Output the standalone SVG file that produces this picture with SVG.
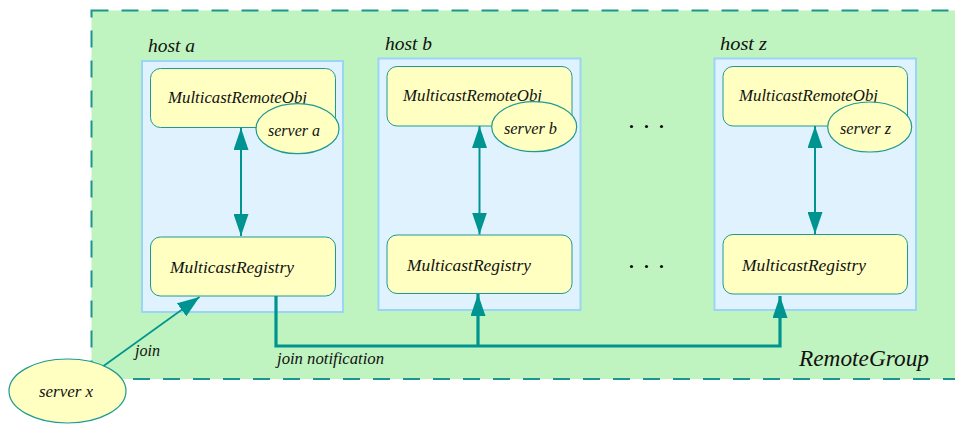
<svg xmlns="http://www.w3.org/2000/svg" width="955" height="424" viewBox="0 0 955 424">
<style>
text{font-family:"Liberation Serif",serif;font-style:italic;fill:#111}
.host{fill:#dff2fe;stroke:#9bd5f5;stroke-width:2}
.box{fill:#ffffc2;stroke:#1e9a94;stroke-width:1}
.srv{fill:#ffffc2;stroke:#1e9a94;stroke-width:1.2}
.c{fill:none;stroke:#009490}
.lbl{font-size:17px}
.hl{font-size:19px}
.sl{font-size:16px}
</style>
<defs>
<marker id="ah" viewBox="0 0 22 15" refX="22" refY="7.5" markerWidth="22" markerHeight="15" markerUnits="userSpaceOnUse" orient="auto"><path d="M0,0 L22,7.5 L0,15 z" fill="#009490"/></marker>
<marker id="ahj" viewBox="0 0 22 16" refX="22" refY="8" markerWidth="22" markerHeight="16" markerUnits="userSpaceOnUse" orient="auto"><path d="M0,0 L22,8 L0,16 z" fill="#009490"/></marker>
</defs>
<g id="RemoteGroup">
<rect x="91.5" y="10.5" width="1000" height="368.5" fill="#bff3bf" stroke="#1a968e" stroke-width="2" stroke-dasharray="17,13"/>
<text x="799" y="366" style="font-size:23px" textLength="130" lengthAdjust="spacingAndGlyphs">RemoteGroup</text>
</g>
<g id="hostA">
<rect class="host" x="142" y="61" width="201" height="251"/>
<text class="hl" x="148" y="52" textLength="47" lengthAdjust="spacingAndGlyphs">host a</text>
</g>
<g id="hostB">
<rect class="host" x="378.5" y="58.5" width="202" height="251.5"/>
<text class="hl" x="385" y="50" textLength="47" lengthAdjust="spacingAndGlyphs">host b</text>
</g>
<g id="hostZ">
<rect class="host" x="714.5" y="58.5" width="201.5" height="251.5"/>
<text class="hl" x="720" y="50" textLength="47" lengthAdjust="spacingAndGlyphs">host z</text>
</g>
<g id="mroA"><rect class="box" x="150.5" y="68.5" width="185" height="59" rx="10"/><text class="lbl" x="168" y="103" textLength="139" lengthAdjust="spacingAndGlyphs">MulticastRemoteObj</text></g>
<g id="serverA"><ellipse class="srv" cx="297.5" cy="128.7" rx="41.5" ry="25"/><text class="sl" x="268" y="136" textLength="52" lengthAdjust="spacingAndGlyphs">server a</text></g>
<g id="regA"><rect class="box" x="150.5" y="237" width="185" height="59" rx="10"/><text class="lbl" x="170" y="273" textLength="124" lengthAdjust="spacingAndGlyphs">MulticastRegistry</text></g>
<g id="mroB"><rect class="box" x="387" y="66.5" width="185" height="59.5" rx="10"/><text class="lbl" x="403" y="101" textLength="139" lengthAdjust="spacingAndGlyphs">MulticastRemoteObj</text></g>
<g id="serverB"><ellipse class="srv" cx="534.2" cy="126.7" rx="42.5" ry="25"/><text class="sl" x="504" y="134" textLength="53" lengthAdjust="spacingAndGlyphs">server b</text></g>
<g id="regB"><rect class="box" x="387" y="235" width="185" height="58.5" rx="10"/><text class="lbl" x="407" y="271" textLength="124" lengthAdjust="spacingAndGlyphs">MulticastRegistry</text></g>
<g id="mroZ"><rect class="box" x="723" y="66.5" width="184.5" height="59.5" rx="10"/><text class="lbl" x="739" y="101" textLength="139" lengthAdjust="spacingAndGlyphs">MulticastRemoteObj</text></g>
<g id="serverZ"><ellipse class="srv" cx="869.7" cy="127" rx="42" ry="25"/><text class="sl" x="840" y="134" textLength="51" lengthAdjust="spacingAndGlyphs">server z</text></g>
<g id="regZ"><rect class="box" x="723" y="234.5" width="184.5" height="59.5" rx="10"/><text class="lbl" x="742" y="271" textLength="124" lengthAdjust="spacingAndGlyphs">MulticastRegistry</text></g>
<g id="serverX"><ellipse class="srv" cx="67.5" cy="391" rx="58.5" ry="32"/><text class="sl" x="39" y="397" textLength="54" lengthAdjust="spacingAndGlyphs">server x</text></g>
<g id="dots" fill="#111">
<circle cx="631.5" cy="126.5" r="1.6"/><circle cx="646.5" cy="126.5" r="1.6"/><circle cx="661.5" cy="126.5" r="1.6"/>
<circle cx="631.5" cy="266.5" r="1.6"/><circle cx="646.5" cy="266.5" r="1.6"/><circle cx="661.5" cy="266.5" r="1.6"/>
</g>
<g id="connectors">
<path class="c" stroke-width="2" d="M241,180 L241,128" marker-end="url(#ah)"/>
<path class="c" stroke-width="2" d="M241,180 L241,236" marker-end="url(#ah)"/>
<path class="c" stroke-width="2" d="M479.5,180 L479.5,126" marker-end="url(#ah)"/>
<path class="c" stroke-width="2" d="M479.5,180 L479.5,234.5" marker-end="url(#ah)"/>
<path class="c" stroke-width="2" d="M815,180 L815,126" marker-end="url(#ah)"/>
<path class="c" stroke-width="2" d="M815,180 L815,234" marker-end="url(#ah)"/>
<path class="c" stroke-width="1.6" d="M103.5,366 L199.5,297" marker-end="url(#ahj)"/>
<path class="c" stroke-width="3.2" d="M276,296 L276,346 L780,346 L780,296" marker-end="url(#ah)"/>
<path class="c" stroke-width="3.2" d="M478,346 L478,294" marker-end="url(#ah)"/>
<text class="sl" x="135" y="356" textLength="25" lengthAdjust="spacingAndGlyphs">join</text>
<text class="sl" x="277" y="364" textLength="107" lengthAdjust="spacingAndGlyphs">join notification</text>
</g>
</svg>
